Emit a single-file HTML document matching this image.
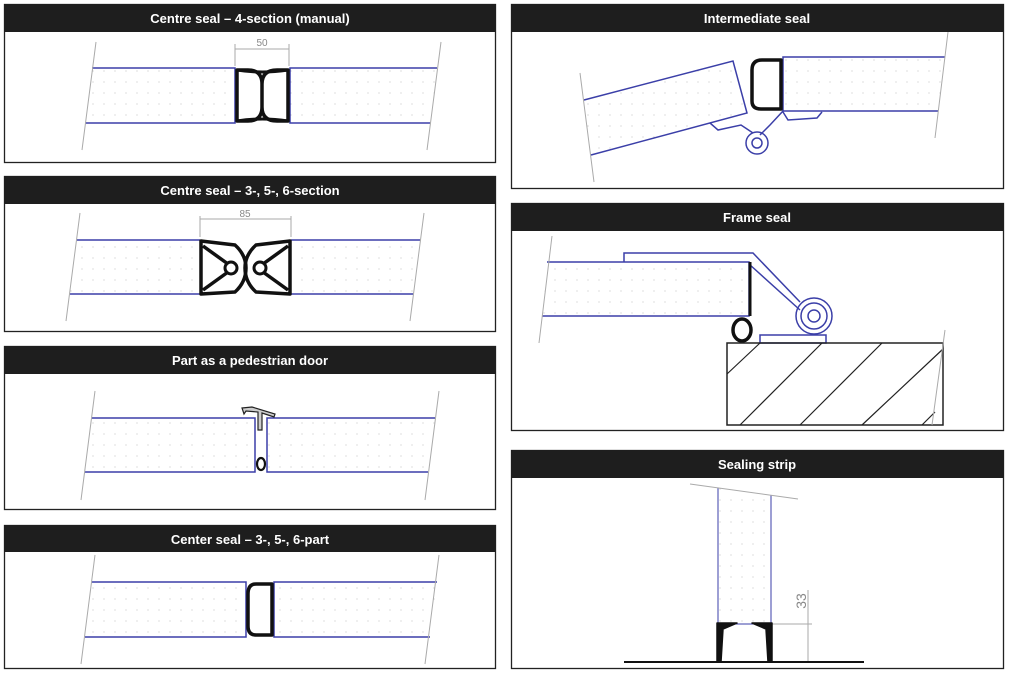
<!DOCTYPE html>
<html><head><meta charset="utf-8"><style>
html,body{margin:0;padding:0;background:#fff;width:1009px;height:674px;overflow:hidden}
svg{display:block}
.h{font-family:"Liberation Sans",sans-serif;font-weight:bold;font-size:13px;fill:#fff}
.b{fill:none;stroke:#3b3fa8;stroke-width:1.5}
.g{stroke:#aaa;stroke-width:1;fill:none}
.k{fill:none;stroke:#111;stroke-width:3.5;stroke-linejoin:round}
</style></head><body>
<svg width="1009" height="674" viewBox="0 0 1009 674" xmlns="http://www.w3.org/2000/svg">
<defs>
<pattern id="d" width="11" height="11" patternUnits="userSpaceOnUse"><circle cx="5" cy="5" r="0.5" fill="#aaa"/></pattern>
</defs>
<g fill="#fff" stroke="#222" stroke-width="1.3">
<rect x="4.5" y="4.5" width="491" height="158"/>
<rect x="4.5" y="176.5" width="491" height="155"/>
<rect x="4.5" y="346.5" width="491" height="163"/>
<rect x="4.5" y="525.5" width="491" height="143"/>
<rect x="511.5" y="4.5" width="492" height="184"/>
<rect x="511.5" y="203.5" width="492" height="227"/>
<rect x="511.5" y="450.5" width="492" height="218"/>
</g>
<g fill="#1e1e1e">
<rect x="4" y="4" width="492" height="28"/>
<rect x="4" y="176" width="492" height="28"/>
<rect x="4" y="346" width="492" height="28"/>
<rect x="4" y="525" width="492" height="27"/>
<rect x="511" y="4" width="493" height="28"/>
<rect x="511" y="203" width="493" height="28"/>
<rect x="511" y="450" width="493" height="28"/>
</g>
<g class="h" text-anchor="middle">
<text x="250" y="23">Centre seal – 4-section (manual)</text>
<text x="250" y="195">Centre seal – 3-, 5-, 6-section</text>
<text x="250" y="365">Part as a pedestrian door</text>
<text x="250" y="544">Center seal – 3-, 5-, 6-part</text>
<text x="757" y="23">Intermediate seal</text>
<text x="757" y="222">Frame seal</text>
<text x="757" y="469">Sealing strip</text>
</g>

<!-- P1 -->
<polygon points="92,68 235,68 235,123 85,123" fill="url(#d)"/>
<polygon points="290,68 437,68 430,123 289,123" fill="url(#d)"/>
<path class="b" d="M92,68H235V123H85M437,68H290V123H430"/>
<path class="g" d="M96,42L82,150M441,42L427,150M235,66V44M289,66V44M235,49H289"/>
<text x="262" y="46" font-family="Liberation Sans,sans-serif" font-size="10" fill="#888" text-anchor="middle">50</text>
<path class="k" d="M237,70H248Q262,70 262,84V107Q262,121 248,121H237ZM288,70H277Q262,70 262,84V107Q262,121 277,121H288Z"/>
<path d="M237,70Q262,74 288,70M237,121Q262,117 288,121" stroke="#111" stroke-width="3" fill="none"/>

<!-- P2 -->
<polygon points="77,240 200,240 200,294 70,294" fill="url(#d)"/>
<polygon points="291,240 420,240 413,294 291,294" fill="url(#d)"/>
<path class="b" d="M77,240H200M70,294H200M420,240H291M413,294H291" stroke="#8888cc"/>
<path class="g" d="M80,213L66,321M424,213L410,321M200,237V216M291,237V216M200,219H291"/>
<text x="245" y="217" font-family="Liberation Sans,sans-serif" font-size="10" fill="#888" text-anchor="middle">85</text>
<path class="k" d="M201,241L235,245Q246,255 246,268Q246,282 235,292L201,294Z M203,246L228,264M203,290L228,272"/>
<path class="k" d="M290,241L256,245Q245,255 245,268Q245,282 256,292L290,294Z M288,246L263,264M288,290L263,272"/>
<circle cx="231" cy="268" r="6" fill="#fff" stroke="#111" stroke-width="3"/>
<circle cx="260" cy="268" r="6" fill="#fff" stroke="#111" stroke-width="3"/>

<!-- P3 -->
<polygon points="92,418 255,418 255,472 85,472" fill="url(#d)"/>
<polygon points="267,418 435,418 428,472 267,472" fill="url(#d)"/>
<path class="b" d="M92,418H255V472H85M435,418H267V472H428"/>
<path class="g" d="M95,391L81,500M439,391L425,500"/>
<path d="M242,408L252,407L275,414L274,417L262,413V430H258V412L246,411L244,414Z" fill="#ccc" stroke="#222" stroke-width="1.2"/>
<ellipse cx="261" cy="464" rx="4" ry="6" fill="none" stroke="#111" stroke-width="2.2"/>

<!-- P4 -->
<polygon points="92,582 246,582 246,637 85,637" fill="url(#d)"/>
<polygon points="274,582 437,582 430,637 274,637" fill="url(#d)"/>
<path class="b" d="M92,582H246V637H85M437,582H274V637H430"/>
<path class="g" d="M95,555L81,664M439,555L425,664"/>
<path class="k" d="M272,584H256Q248,584 248,594V626Q248,635 256,635H272Z"/>

<!-- R1 -->
<polygon points="783,57 945,57 938,111 783,111" fill="url(#d)"/>
<polygon points="584,100 733,61 747,113 591,155" fill="url(#d)"/>
<path class="b" d="M945,57H783V111H938M584,100L733,61L747,113L591,155"/>
<path class="b" d="M710,123L718,130L741,125L753,133M783,111L770,125L760,135M783,112L788,120L817,118L822,112"/>
<circle cx="757" cy="143" r="11" class="b" stroke-width="2.2"/>
<circle cx="757" cy="143" r="5" class="b" stroke-width="2.2"/>
<path class="g" d="M580,73L594,182M948,32L935,138"/>
<path class="k" d="M781,60H762Q752,60 752,70V101Q752,109 761,109H781Z"/>

<!-- R2 -->
<polygon points="547,262 749,262 749,316 542,316" fill="url(#d)"/>
<path class="b" d="M547,262H749V316H542M624,262V253H753L800,302M749,264L800,310"/>
<path d="M750,262V316" stroke="#111" stroke-width="3"/>
<circle cx="814" cy="316" r="18" class="b" stroke-width="1.5"/>
<circle cx="814" cy="316" r="13" class="b" stroke-width="3"/>
<circle cx="814" cy="316" r="6" class="b" stroke-width="1.5"/>
<ellipse cx="742" cy="330" rx="9" ry="11" fill="none" stroke="#111" stroke-width="3.5"/>
<rect x="760" y="335" width="66" height="8" class="b"/>
<rect x="727" y="343" width="216" height="82" fill="none" stroke="#222" stroke-width="1.5"/>
<path d="M727,374L760,343M740,425L822,343M800,425L882,343M862,425L943,349M922,425L935,412" stroke="#222" stroke-width="1.2"/>
<path class="g" d="M552,236L539,343M945,330L932,425"/>

<!-- R3 -->
<polygon points="718,488 771,495 771,624 718,624" fill="url(#d)"/>
<path d="M718,488V624M771,495V624M718,624H771" stroke="#3b3fa8" stroke-width="1"/>
<path class="g" d="M690,484L798,499M771,624H812M808,590V662"/>
<path d="M624,662H864" stroke="#111" stroke-width="2"/>
<path d="M717,623H737L723,629L721,662H717Z M772,623H752L766,629L768,662H772Z" fill="#111" stroke="#111" stroke-width="1.5" stroke-linejoin="round"/>
<text transform="translate(806,601) rotate(-90)" font-family="Liberation Sans,sans-serif" font-size="14" fill="#888" text-anchor="middle">33</text>
</svg>
</body></html>
